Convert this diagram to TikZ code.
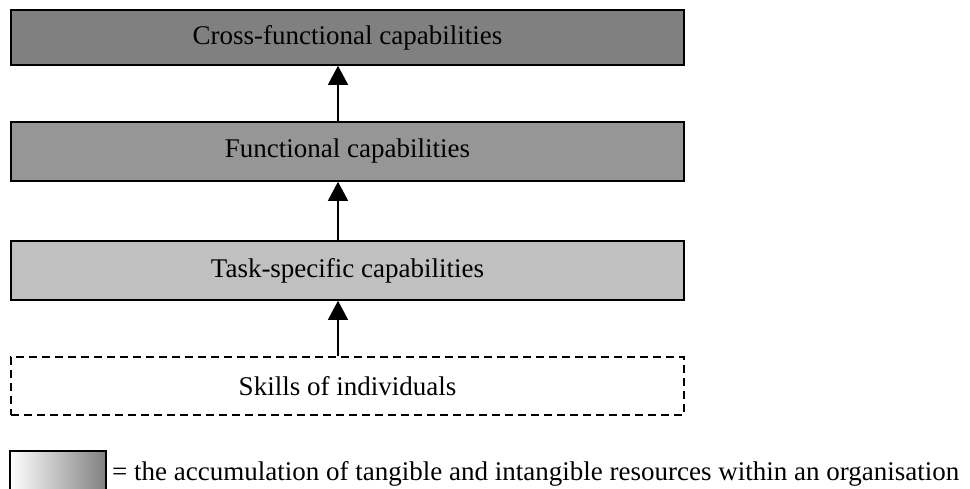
\documentclass[tikz,border=0pt]{standalone}
\usepackage{fontspec}
\setmainfont{Liberation Serif}
\usetikzlibrary{arrows.meta}
\definecolor{capdark}{HTML}{808080}
\definecolor{capmid}{HTML}{969696}
\definecolor{caplight}{HTML}{C0C0C0}
\begin{document}
\begin{tikzpicture}[x=1pt,y=-1pt]
\tikzset{
  every node/.style={font=\fontsize{27}{32}\selectfont},
  capbox/.style={draw=black,line width=1.6pt,minimum width=673,minimum height=57,inner sep=0pt},
  uparrow/.style={line width=1.3pt,-{Triangle[length=19pt,width=20pt]}},
}
\useasboundingbox (0,0) rectangle (970,489);
\foreach \n/\y/\h/\c/\t in {
    cross/37.5/55/capdark/{Cross-functional capabilities},
    func/151.5/59/capmid/{Functional capabilities},
    task/270.5/59/caplight/{Task-specific capabilities}
}{
    \node [capbox,minimum height=\h,fill=\c] (\n) at (347.5,\y) {\t};
}
\node [capbox,minimum height=58,line width=1.2pt,dash pattern=on 8pt off 5pt] (skills) at (347.5,386) {Skills of individuals};
% arrows run a little left of the box centres
\coordinate (ax) at (338,0);
\foreach \a/\b in {skills/task,task/func,func/cross}{
    \draw [uparrow] (\a.north -| ax) -- (\b.south -| ax);
}
% key
\node [draw=black,line width=1.6pt,left color=white,right color=capdark,minimum width=96,minimum height=44,inner sep=0pt] (key) at (58,473) {};
\node [anchor=base west,inner sep=0pt] (keytext) at (112,480) {= the accumulation of tangible and intangible resources within an organisation};
\end{tikzpicture}
\end{document}
